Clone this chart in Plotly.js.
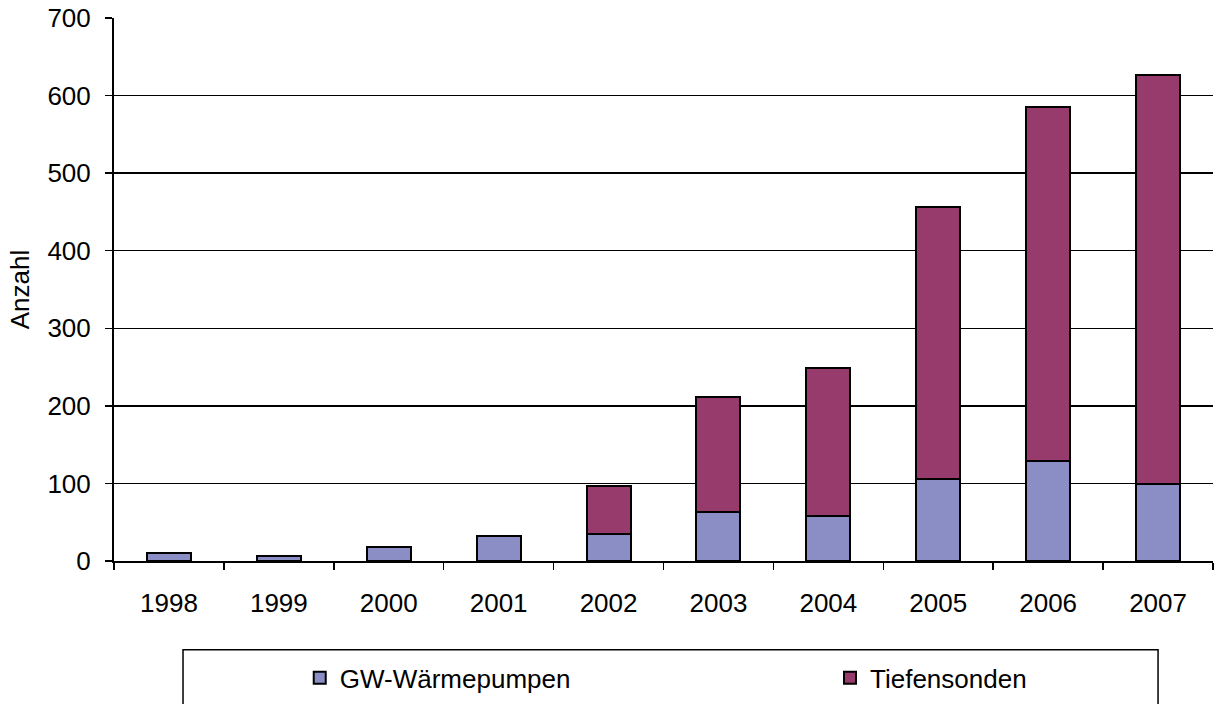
<!DOCTYPE html>
<html>
<head>
<meta charset="utf-8">
<script src="https://cdn.plot.ly/plotly-3.0.1.min.js"></script>
<style>html,body{margin:0;padding:0;background:#fff;}#chart{width:1217px;height:704px;}</style>
</head>
<body>
<div id="chart"></div>
<script>
const years = ['1998','1999','2000','2001','2002','2003','2004','2005','2006','2007'];
const gwWaermepumpen = [10, 7, 18, 32, 35, 63, 58, 106, 129, 99];
const tiefensonden = [0, 0, 0, 0, 62, 148, 191, 351, 456, 528];
const seriesNames = ['GW-Wärmepumpen', 'Tiefensonden'];
const yTicks = [0, 100, 200, 300, 400, 500, 600, 700];

const FONT = 'Liberation Sans, Arial, sans-serif';
const FS = 26;

const traces = [
  {
    type: 'bar', name: seriesNames[0], x: years, y: gwWaermepumpen, legend: 'legend',
    marker: {color: '#8B8EC4', line: {color: '#000000', width: 2}},
    hoverinfo: 'x+y+name'
  },
  {
    type: 'bar', name: seriesNames[1], x: years, y: tiefensonden, legend: 'legend2',
    marker: {color: '#973A6C', line: {color: '#000000', width: 2}},
    hoverinfo: 'x+y+name'
  }
];

const legendBase = {
  orientation: 'h', xanchor: 'left', yanchor: 'middle', y: -0.213,
  font: {family: FONT, size: FS, color: '#000000'},
  bgcolor: 'rgba(0,0,0,0)', borderwidth: 0
};

const layout = {
  width: 1217, height: 704,
  margin: {l: 114, r: 4, t: 18, b: 142},
  paper_bgcolor: '#ffffff', plot_bgcolor: '#ffffff',
  barmode: 'stack', bargap: 0.6,
  font: {family: FONT, size: FS, color: '#000000'},
  showlegend: true,
  legend: Object.assign({}, legendBase, {x: 0.169}),
  legend2: Object.assign({}, legendBase, {x: 0.6515}),
  xaxis: {
    type: 'category', tickson: 'boundaries', ticks: 'outside', ticklen: 7, tickwidth: 1.5, tickcolor: '#000',
    showline: true, linecolor: '#000', linewidth: 2, showgrid: false, zeroline: false,
    tickfont: {family: FONT, size: FS, color: '#000'}, ticklabelstandoff: 18
  },
  yaxis: {
    range: [0, 700], tickvals: yTicks, ticktext: yTicks.map(String),
    ticks: 'outside', ticklen: 7, tickwidth: 1.5, tickcolor: '#000',
    showline: true, linecolor: '#000', linewidth: 2,
    showgrid: true, gridcolor: '#000', gridwidth: 1.5, zeroline: false,
    tickfont: {family: FONT, size: FS, color: '#000'}, ticklabelstandoff: 9,
    title: {text: 'Anzahl', font: {family: FONT, size: FS, color: '#000'}, standoff: 10}
  },
  shapes: [
    {type: 'rect', xref: 'paper', yref: 'paper', x0: 0.0628, x1: 0.950, y0: -0.1636, y1: -0.30,
     line: {color: '#000', width: 1.5}, fillcolor: 'rgba(0,0,0,0)', layer: 'above'}
  ]
};

Plotly.newPlot('chart', traces, layout, {displayModeBar: false, staticPlot: true});
</script>
</body>
</html>
